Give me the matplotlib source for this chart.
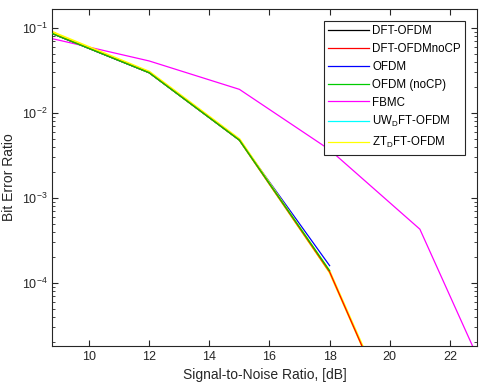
import numpy as np
import matplotlib
matplotlib.use('Agg')
import matplotlib.pyplot as plt

plt.rcParams['font.family'] = ['Liberation Sans', 'DejaVu Sans']
plt.rcParams['mathtext.fontset'] = 'custom'
plt.rcParams['mathtext.rm'] = 'Liberation Sans'

# 데이터 ======================================================
snr = [6, 9, 12, 15, 18, 21, 24]

ber_dft = [0.22, 0.08, 0.0298, 4.8e-3, 1.35e-4, np.nan, np.nan]
ber_dft_nocp = [0.22, 0.08, 0.0298, 4.8e-3, 1.35e-4, 5e-7, np.nan]
ber_ofdm = [0.22, 0.08, 0.0298, 4.8e-3, 1.6e-4, np.nan, np.nan]
ber_ofdm_nocp = [0.22, 0.08, 0.0298, 4.8e-3, 1.4e-4, np.nan, np.nan]
ber_fbmc = [0.122, 0.072, 0.041, 0.019, 3.7e-3, 4.3e-4, 1.9e-6]
ber_uw = [0.22, 0.08, 0.0298, 4.8e-3, 1.35e-4, np.nan, np.nan]
ber_zt = [0.24, 0.083, 0.0305, 4.9e-3, 1.35e-4, 5.3e-7, np.nan]

labels = ['DFT-OFDM', 'DFT-OFDMnoCP', 'OFDM', 'OFDM (noCP)', 'FBMC',
          'UW$_\\mathregular{D}$FT-OFDM', 'ZT$_\\mathregular{D}$FT-OFDM']
series = [ber_dft, ber_dft_nocp, ber_ofdm, ber_ofdm_nocp, ber_fbmc, ber_uw, ber_zt]
colors = ['#000000', '#ff0000', '#0000ff', '#00cc00', '#ff00ff', '#00ffff', '#ffff00']

# 그래프 그리기 =====================================================
fig = plt.figure(figsize=(4.87, 3.89), dpi=100)
ax = fig.add_axes([0.1074, 0.1113, 0.8721, 0.8647])

for s, c, lab in zip(series, colors, labels):
    ax.semilogy(snr, s, color=c, lw=0.9, label=lab)

# 겹친 선 순서: 초록이 위, 18dB 이후는 빨강/노랑이 섞여 보임
ax.lines[3].set_zorder(3)
ax.lines[1].set_zorder(2.5)
ax.lines[6].set_linewidth(1.8)

ax.set_xlim(8.78, 22.9)
ax.set_ylim(1.83e-5, 0.166)
ax.set_xticks([10, 12, 14, 16, 18, 20, 22])
ax.set_yticks([1e-4, 1e-3, 1e-2, 1e-1])
ax.tick_params(which='both', direction='in', top=True, right=True,
               labelsize=9, colors='#262626', labelcolor='#262626')
ax.tick_params(which='major', length=4)
ax.tick_params(which='minor', length=2)
for sp in ax.spines.values():
    sp.set_color('#262626')
    sp.set_linewidth(0.8)

ax.set_xlabel('Signal-to-Noise Ratio, [dB]', fontsize=10, color='#262626')
ax.set_ylabel('Bit Error Ratio', fontsize=10, color='#262626')

leg = ax.legend(loc='upper right', fontsize=8.3, fancybox=False, framealpha=1,
                edgecolor='#262626', handlelength=3.5, handletextpad=0.3,
                labelspacing=0.5, borderaxespad=1.0)
leg.get_frame().set_linewidth(0.8)
leg.get_lines()[6].set_linewidth(0.9)

plt.savefig('out.png', dpi=100)
